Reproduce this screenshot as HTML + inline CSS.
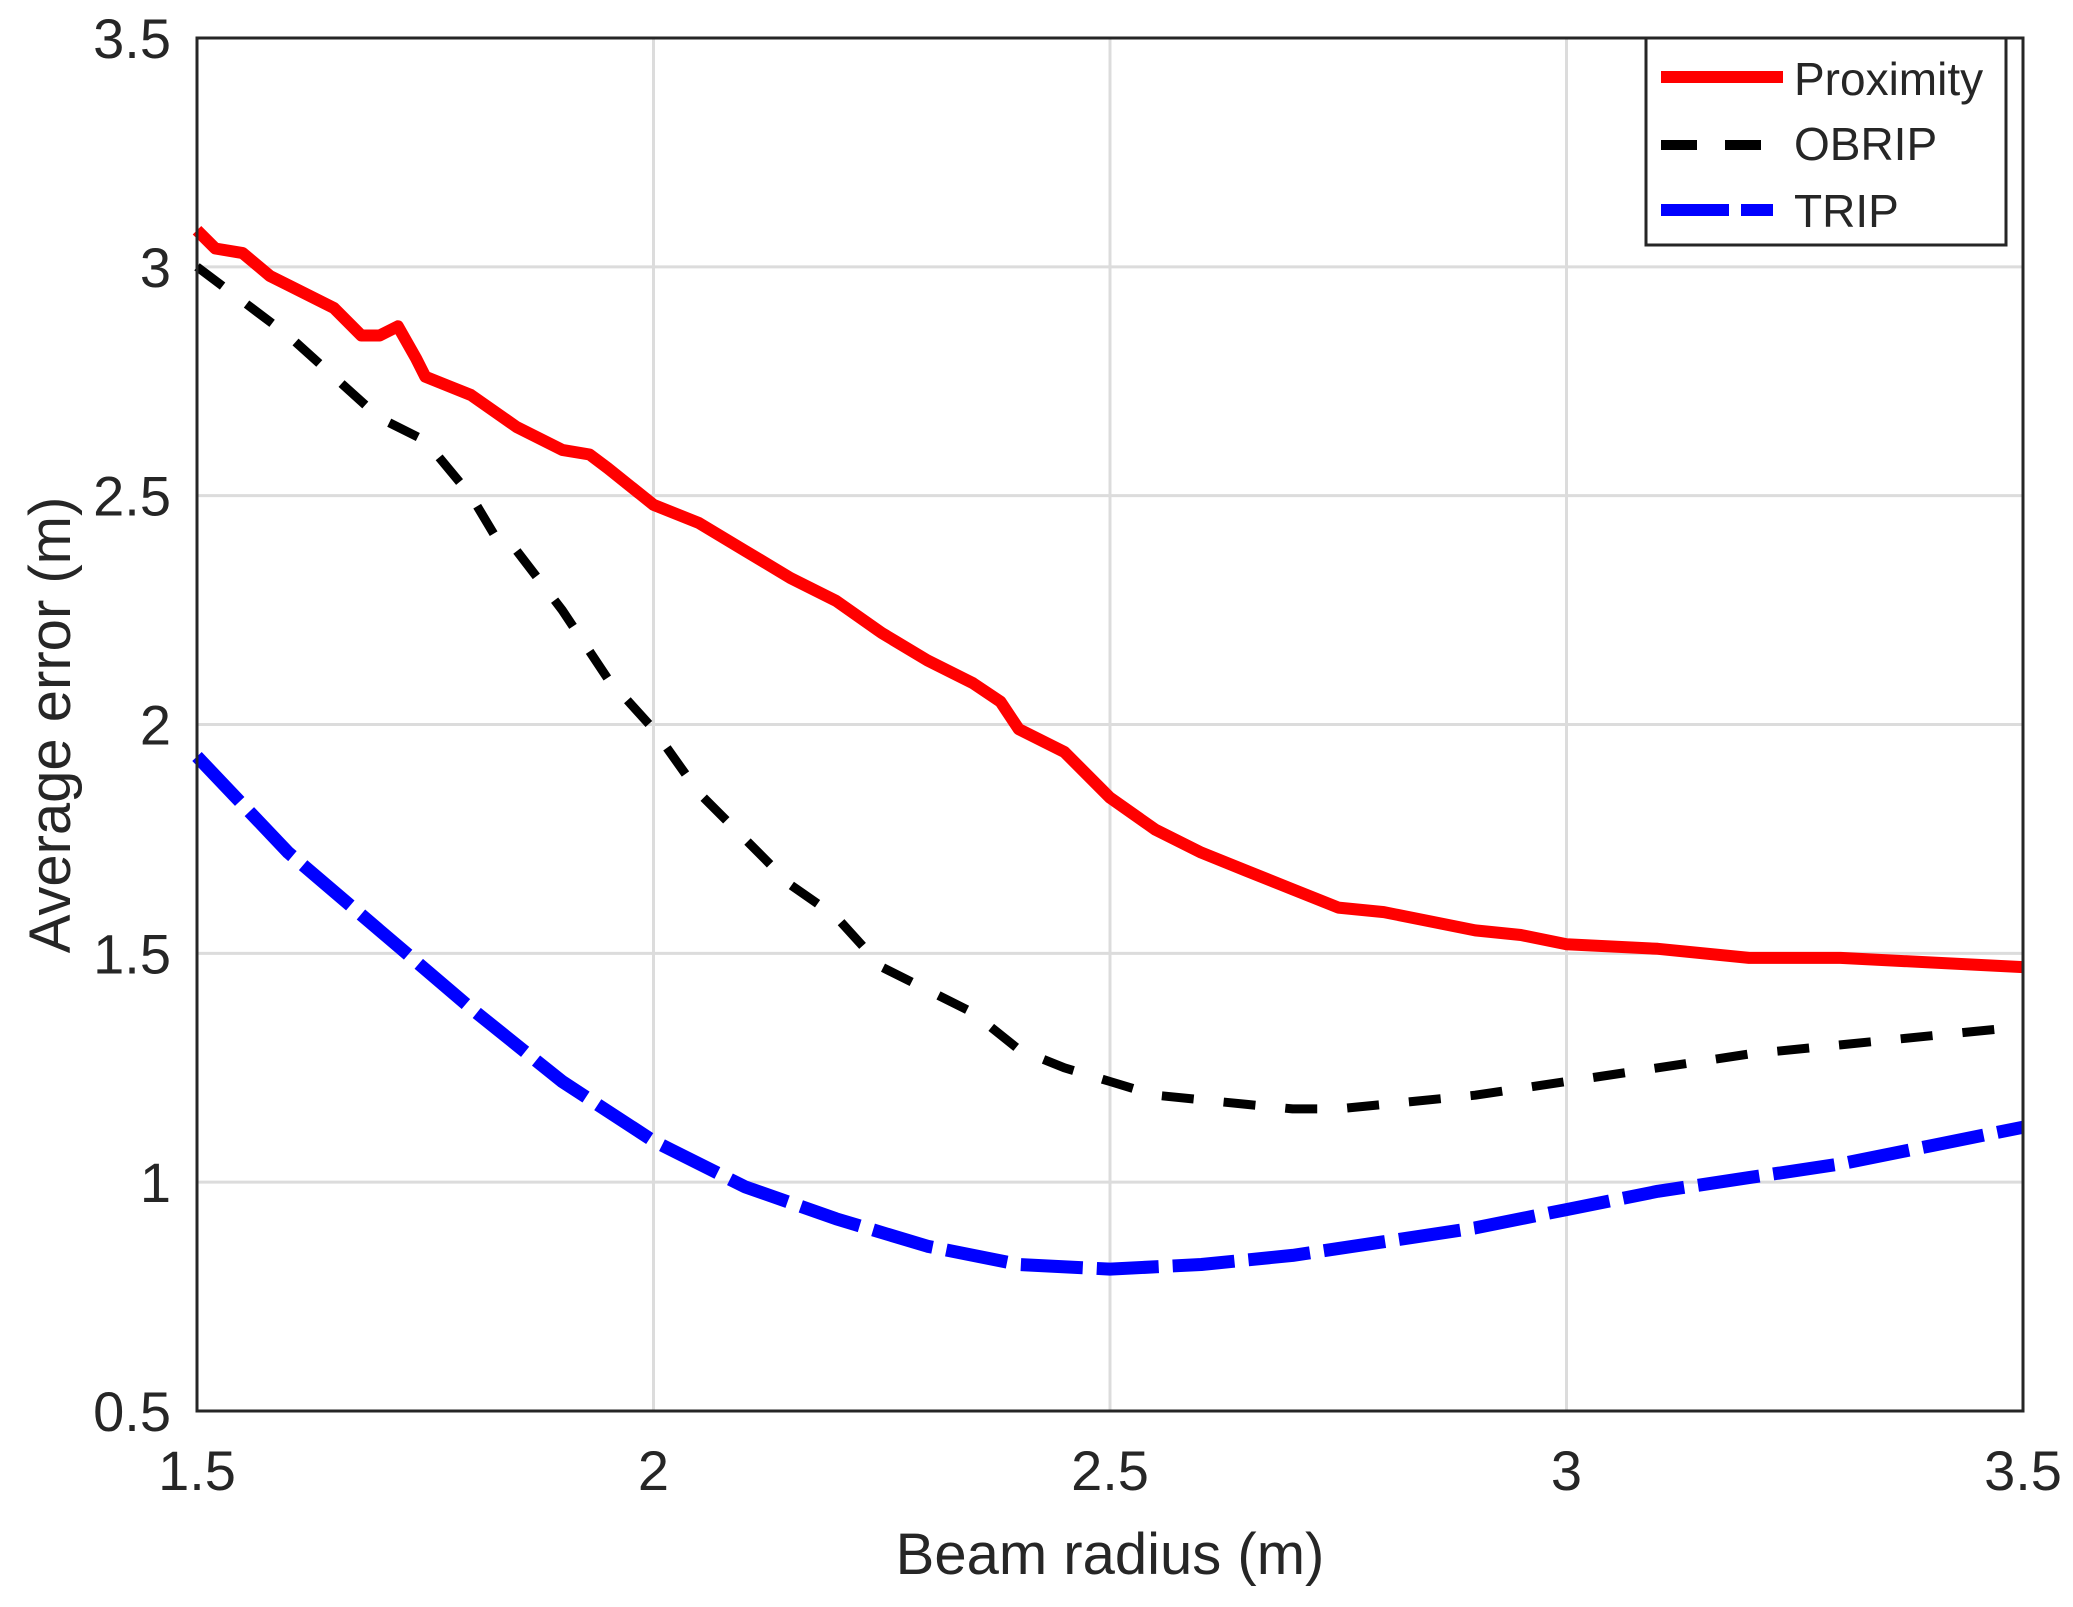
<!DOCTYPE html>
<html><head><meta charset="utf-8"><style>
html,body{margin:0;padding:0;background:#fff;}
svg{display:block;font-family:"Liberation Sans",Arial,sans-serif;}
</style></head><body>
<svg id="chart" width="2073" height="1607" viewBox="0 0 2073 1607" xmlns="http://www.w3.org/2000/svg">
<g id="grid"></g>
<g id="series"></g>
<rect x="197" y="38" width="1826" height="1373" fill="none" stroke="#262626" stroke-width="3"/>
<g id="ticks" font-size="56" fill="#262626"></g>
<text x="1110" y="1574" font-size="58" fill="#262626" text-anchor="middle">Beam radius (m)</text>
<text transform="translate(70,725) rotate(-90)" font-size="58" fill="#262626" text-anchor="middle">Average error (m)</text>
<g>
<rect x="1646" y="38" width="360" height="207" fill="#fff" stroke="#262626" stroke-width="3"/>
<line x1="1661" y1="77" x2="1783" y2="77" stroke="#ff0000" stroke-width="12"/>
<text x="1794" y="95" font-size="46" fill="#262626">Proximity</text>
<line x1="1661" y1="145" x2="1783" y2="145" stroke="#000" stroke-width="10" stroke-dasharray="36,28"/>
<text x="1794" y="160" font-size="46" fill="#262626">OBRIP</text>
<line x1="1661" y1="210" x2="1773" y2="210" stroke="#0000ff" stroke-width="12" stroke-dasharray="68,12"/>
<text x="1794" y="227" font-size="46" fill="#262626">TRIP</text>
</g>
</svg>
<script>
const xTicks=[1.5,2,2.5,3,3.5];
const yTicks=[0.5,1,1.5,2,2.5,3,3.5];
const xTickLabels=["1.5","2","2.5","3","3.5"];
const yTickLabels=["0.5","1","1.5","2","2.5","3","3.5"];
const proxX=[1.5,1.52,1.55,1.58,1.6,1.65,1.68,1.7,1.72,1.74,1.75,1.8,1.85,1.9,1.93,1.95,2.0,2.05,2.1,2.15,2.2,2.25,2.3,2.35,2.38,2.4,2.45,2.5,2.55,2.6,2.65,2.7,2.75,2.8,2.85,2.9,2.95,3.0,3.1,3.2,3.3,3.4,3.5];
const proxY=[3.08,3.04,3.03,2.98,2.96,2.91,2.85,2.85,2.87,2.8,2.76,2.72,2.65,2.6,2.59,2.56,2.48,2.44,2.38,2.32,2.27,2.2,2.14,2.09,2.05,1.99,1.94,1.84,1.77,1.72,1.68,1.64,1.6,1.59,1.57,1.55,1.54,1.52,1.51,1.49,1.49,1.48,1.47];
const obripX=[1.5,1.6,1.7,1.75,1.8,1.83,1.85,1.9,1.95,2.0,2.05,2.1,2.15,2.2,2.25,2.3,2.35,2.4,2.45,2.5,2.55,2.6,2.65,2.7,2.75,2.8,2.9,3.0,3.1,3.2,3.3,3.4,3.5];
const obripY=[3.0,2.85,2.67,2.62,2.5,2.4,2.38,2.25,2.1,1.99,1.85,1.75,1.65,1.58,1.47,1.42,1.37,1.29,1.25,1.22,1.19,1.18,1.17,1.16,1.16,1.17,1.19,1.22,1.25,1.28,1.3,1.32,1.34];
const tripX=[1.5,1.6,1.7,1.8,1.9,2.0,2.1,2.2,2.3,2.4,2.5,2.6,2.7,2.8,2.9,3.0,3.1,3.2,3.3,3.4,3.5];
const tripY=[1.93,1.72,1.55,1.38,1.22,1.09,0.99,0.92,0.86,0.82,0.81,0.82,0.84,0.87,0.9,0.94,0.98,1.01,1.04,1.08,1.12];
const L=197,R=2023,T=38,B=1411;
const sx=v=>L+(v-1.5)/2*(R-L);
const sy=v=>B-(v-0.5)/3*(B-T);
const NS="http://www.w3.org/2000/svg";
const grid=document.getElementById('grid'),ticks=document.getElementById('ticks'),ser=document.getElementById('series');
xTicks.forEach((t,i)=>{
 const l=document.createElementNS(NS,'line');
 
 
 l.setAttribute('x1',sx(t));l.setAttribute('x2',sx(t));l.setAttribute('y1',T);l.setAttribute('y2',B);
 l.setAttribute('stroke','#dcdcdc');l.setAttribute('stroke-width','3');grid.appendChild(l);
 const tx=document.createElementNS(NS,'text');
 
 
 tx.setAttribute('x',sx(t));tx.setAttribute('y',1490);tx.setAttribute('text-anchor','middle');
 tx.textContent=xTickLabels[i];ticks.appendChild(tx);
});
yTicks.forEach((t,i)=>{
 const l=document.createElementNS(NS,'line');
 
 
 l.setAttribute('x1',L);l.setAttribute('x2',R);l.setAttribute('y1',sy(t));l.setAttribute('y2',sy(t));
 l.setAttribute('stroke','#dcdcdc');l.setAttribute('stroke-width','3');grid.appendChild(l);
 const tx=document.createElementNS(NS,'text');
 
 
 tx.setAttribute('x',171);tx.setAttribute('y',sy(t)+20);tx.setAttribute('text-anchor','end');
 tx.textContent=yTickLabels[i];ticks.appendChild(tx);
});
function line(xs,ys,name,color,w,dash){
 const p=document.createElementNS(NS,'path');
 
 
 p.setAttribute('d',xs.map((x,i)=>(i?'L':'M')+sx(x).toFixed(1)+','+sy(ys[i]).toFixed(1)).join(''));
 p.setAttribute('fill','none');p.setAttribute('stroke',color);p.setAttribute('stroke-width',w);
 p.setAttribute('stroke-linejoin','round');
 if(dash)p.setAttribute('stroke-dasharray',dash);
 ser.appendChild(p);
}
line(tripX,tripY,'trip-line','#0000ff',13,'62,14');
line(obripX,obripY,'obrip-line','#000',9,'32,30');
line(proxX,proxY,'proximity-line','#ff0000',12,null);
</script>
</body></html>
